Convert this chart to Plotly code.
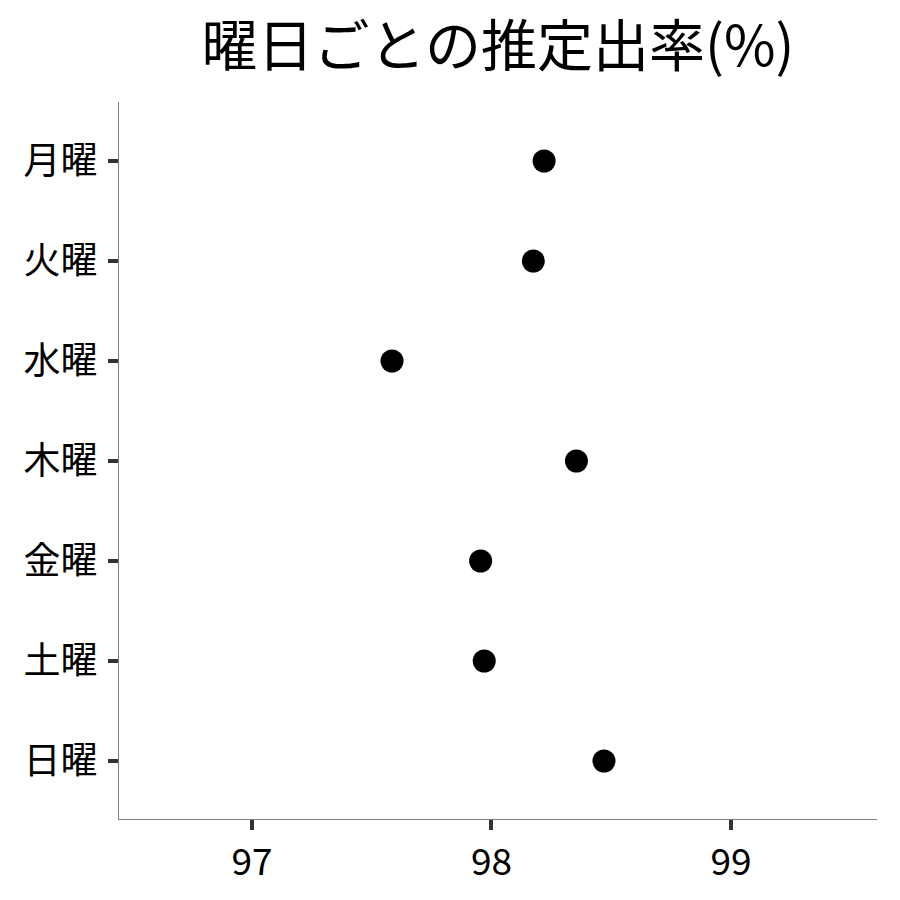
import plotly.graph_objects as go

days = ["月曜", "火曜", "水曜", "木曜", "金曜", "土曜", "日曜"]
rates = [98.22, 98.175, 97.585, 98.355, 97.955, 97.97, 98.47]
x_ticks = [97, 98, 99]
title_text = "曜日ごとの推定出率(%)"

FONT = "Noto Sans CJK JP"

fig = go.Figure(
    go.Scatter(
        x=rates,
        y=days,
        mode="markers",
        marker=dict(color="black", size=23),
        showlegend=False,
    )
)

fig.update_layout(
    width=900,
    height=900,
    paper_bgcolor="white",
    plot_bgcolor="white",
    margin=dict(l=111, r=31, t=94, b=89),
    font=dict(family=FONT, color="black", size=37),
    title=dict(
        text=title_text,
        xref="paper",
        x=0.5,
        xanchor="center",
        yref="container",
        y=0.957,
        yanchor="middle",
        font=dict(family=FONT, size=56, color="black"),
    ),
)

fig.update_xaxes(
    range=[96.445, 99.61],
    tickvals=x_ticks,
    ticktext=[str(v) for v in x_ticks],
    showgrid=False,
    zeroline=False,
    showline=True,
    linecolor="#808080",
    linewidth=1.2,
    ticks="outside",
    ticklen=10,
    tickwidth=3.5,
    tickcolor="#333333",
    tickfont=dict(family=FONT, size=37, color="black"),
)

fig.update_yaxes(
    type="category",
    categoryorder="array",
    categoryarray=days,
    autorange=False,
    range=[6.58, -0.59],
    showgrid=False,
    zeroline=False,
    showline=True,
    linecolor="#808080",
    linewidth=1.2,
    ticks="outside",
    ticklen=10,
    tickwidth=3.5,
    tickcolor="#333333",
    ticklabelstandoff=3,
    tickfont=dict(family=FONT, size=37, color="black"),
)

fig.write_html("out.html")
